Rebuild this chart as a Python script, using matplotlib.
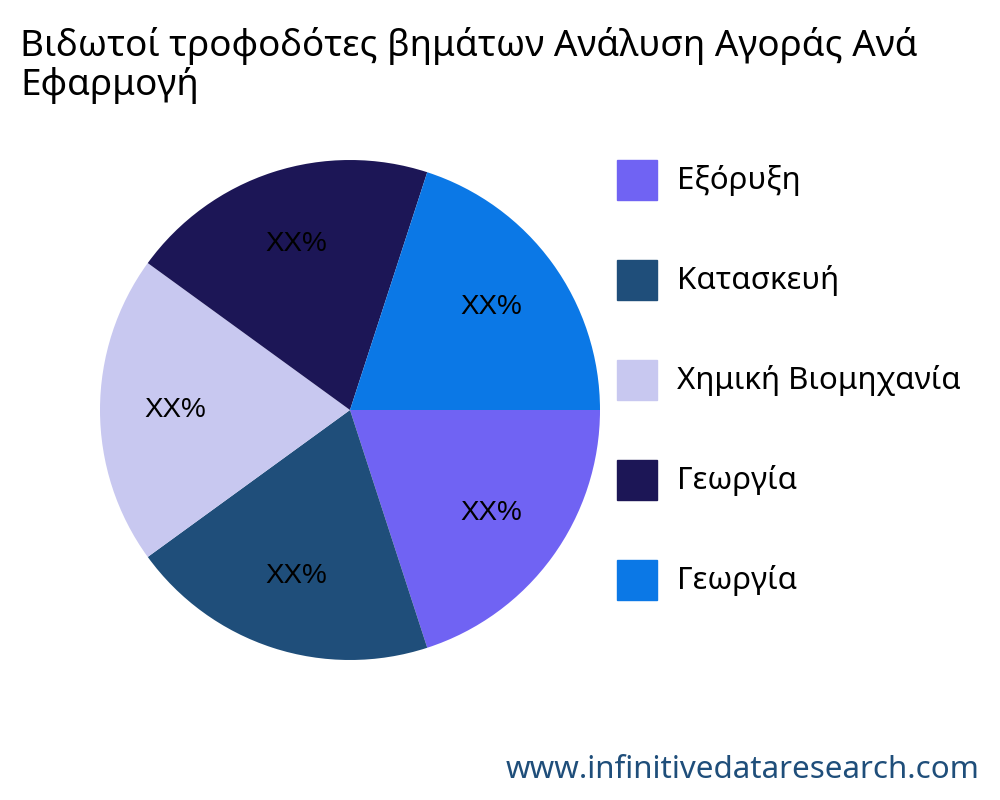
import matplotlib
matplotlib.use("Agg")
import matplotlib.pyplot as plt
from matplotlib.patches import Rectangle

title = "Βιδωτοί τροφοδότες βημάτων Ανάλυση Αγοράς Ανά\nΕφαρμογή"
categories = ["Εξόρυξη", "Κατασκευή", "Χημική Βιομηχανία", "Γεωργία", "Γεωργία"]
values = [20, 20, 20, 20, 20]
slice_labels = ["XX%", "XX%", "XX%", "XX%", "XX%"]
colors = ["#7063F3", "#1F4E7A", "#C8C8F0", "#1C1656", "#0B78E6"]

fig = plt.figure(figsize=(10, 8), dpi=100)
ax = fig.add_axes([0.1, 0.175, 0.5, 0.625])
wedges, texts = ax.pie(values, colors=colors, startangle=0, counterclock=False,
                       labels=slice_labels, labeldistance=0.7,
                       textprops=dict(fontsize=20, family="Liberation Sans", color="black"))
for t in texts:
    t.set_ha("center")
    t.set_va("center")
ax.set_xlim(-1, 1)
ax.set_ylim(-1, 1)
ax.set_aspect("equal")

fig.text(0.02, 0.966, title, fontsize=26.5, family="Noto Sans", va="top", ha="left", linespacing=1.05)

for i, (name, c) in enumerate(zip(categories, colors)):
    yc = 1 - (180 + 100 * i) / 800
    fig.patches.append(Rectangle((0.617, yc - 0.025), 0.04, 0.05, color=c,
                                 transform=fig.transFigure, figure=fig))
    fig.text(0.677, yc, name, fontsize=22.5, family="Noto Sans", va="center", ha="left")

fig.text(0.98, 0.037, "www.infinitivedataresearch.com", fontsize=22.5, family="Noto Sans",
         color="#1F4E7A", ha="right", va="center")

fig.savefig("out.png")
